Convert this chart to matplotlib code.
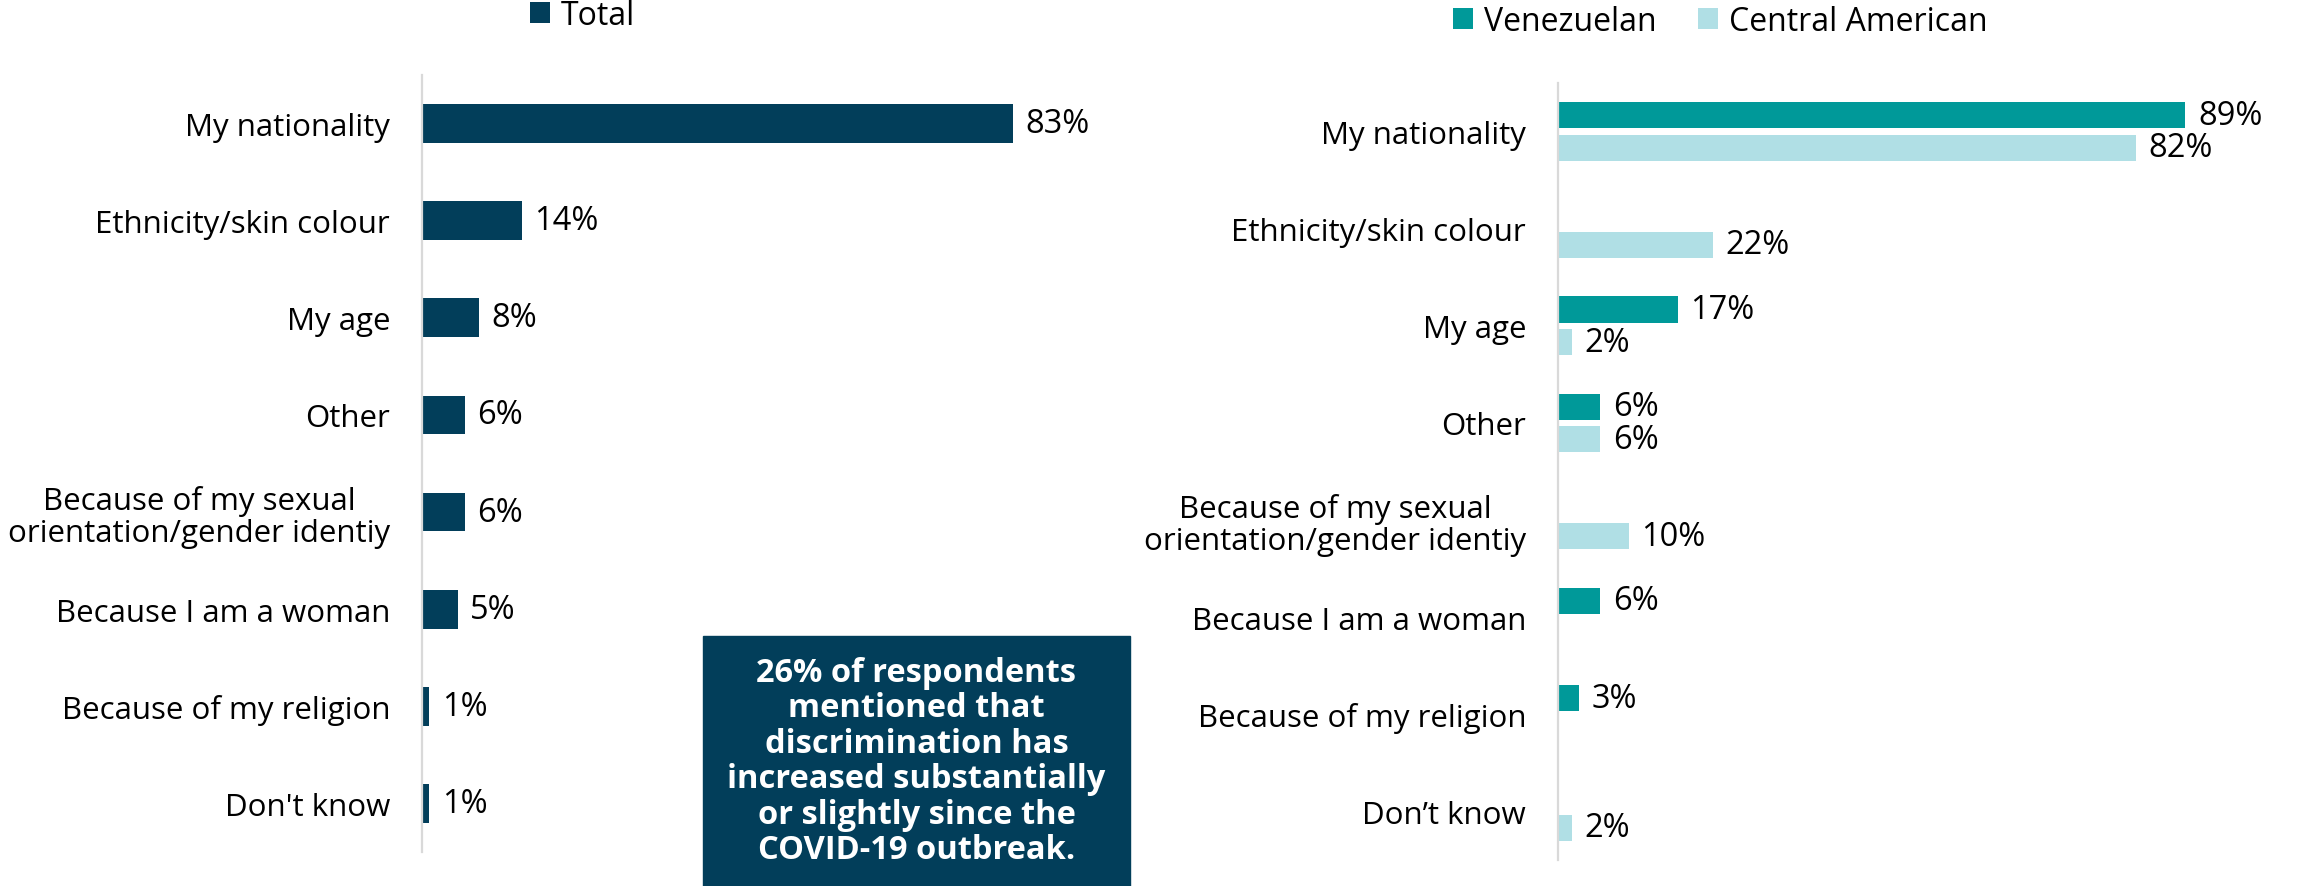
import matplotlib.pyplot as plt
import matplotlib.patches as mpatches
import numpy as np

W, H = 2300, 887

left_cats = ["My nationality", "Ethnicity/skin colour", "My age", "Other",
             "Because of my sexual\norientation/gender identiy", "Because I am a woman",
             "Because of my religion", "Don't know"]
total = [83, 14, 8, 6, 6, 5, 1, 1]

right_cats = ["My nationality", "Ethnicity/skin colour", "My age", "Other",
              "Because of my sexual\norientation/gender identiy", "Because I am a woman",
              "Because of my religion", "Don\u2019t know"]
venezuelan = [89, None, 17, 6, None, 6, 3, None]
central_american = [82, 22, 2, 6, 10, None, None, 2]

note = ("26% of respondents\nmentioned that\ndiscrimination has\n"
        "increased substantially\nor slightly since the\nCOVID-19 outbreak.")

DARK = "#023E5A"
TEAL = "#009999"
LIGHT = "#B0DFE5"
FS = 22.5
FS_VAL = 23.5
FS_LEG = 23


def px(x, y, w, h):
    return [x / W, 1 - (y + h) / H, w / W, h / H]


def style(ax, cats):
    ax.set_xlim(0, 100)
    ax.set_ylim(len(cats) - 0.5, -0.5)
    ax.set_yticks(np.arange(len(cats)))
    ax.set_yticklabels(cats, fontsize=FS, multialignment="center", linespacing=1.1)
    ax.tick_params(axis="y", length=0, pad=23)
    ax.set_xticks([])
    for s in ["top", "right", "bottom"]:
        ax.spines[s].set_visible(False)
    ax.spines["left"].set_color("#D9D9D9")
    ax.spines["left"].set_linewidth(1.6)


def label(ax, v, y):
    ax.annotate(f"{v}%", (v, y), xytext=(9, 0), textcoords="offset points",
                va="center", ha="left", fontsize=FS_VAL)


def main():
    plt.rcParams["font.family"] = ["Open Sans", "DejaVu Sans"]
    fig = plt.figure(figsize=(W / 100, H / 100), dpi=100)

    # left panel
    ax1 = fig.add_axes(px(422, 76, 712, 777))
    style(ax1, left_cats)
    y = np.arange(len(left_cats))
    ax1.barh(y, total, height=0.40, color=DARK, label="Total")
    for yi, v in zip(y, total):
        label(ax1, v, yi)
    ax1.legend(loc="upper left", bbox_to_anchor=(530 / W, 1 - 0 / H),
               bbox_transform=fig.transFigure, frameon=False, fontsize=FS_LEG,
               handlelength=0.62, handleheight=0.62, handletextpad=0.35,
               borderpad=0, borderaxespad=0)

    # right panel
    ax2 = fig.add_axes(px(1558, 84, 705, 777))
    style(ax2, right_cats)
    y = np.arange(len(right_cats))
    off = 0.1675
    v_vals = [np.nan if v is None else v for v in venezuelan]
    c_vals = [np.nan if v is None else v for v in central_american]
    ax2.barh(y - off, v_vals, height=0.27, color=TEAL, label="Venezuelan")
    ax2.barh(y + off, c_vals, height=0.27, color=LIGHT, label="Central American")
    for yi, v in zip(y, venezuelan):
        if v is not None:
            label(ax2, v, yi - off)
    for yi, v in zip(y, central_american):
        if v is not None:
            label(ax2, v, yi + off)
    ax2.legend(loc="upper left", bbox_to_anchor=(1453 / W, 1 - 6 / H),
               bbox_transform=fig.transFigure, frameon=False, fontsize=FS_LEG, ncol=2,
               handlelength=0.62, handleheight=0.62, handletextpad=0.35,
               columnspacing=1.3, borderpad=0, borderaxespad=0)

    # note box
    x0, y0, x1, y1 = 703, 637, 1130, 887
    fig.patches.append(mpatches.Rectangle((x0 / W, 1 - y1 / H), (x1 - x0) / W,
                                          (y1 - y0) / H, transform=fig.transFigure,
                                          color=DARK, zorder=5))
    fig.text((x0 + x1) / 2 / W, 1 - 762 / H, note, color="white", fontsize=23.5,
             fontweight="bold", ha="center", va="center", linespacing=1.1,
             zorder=6)

    fig.savefig("out.png", dpi=100)


if __name__ == "__main__":
    main()
